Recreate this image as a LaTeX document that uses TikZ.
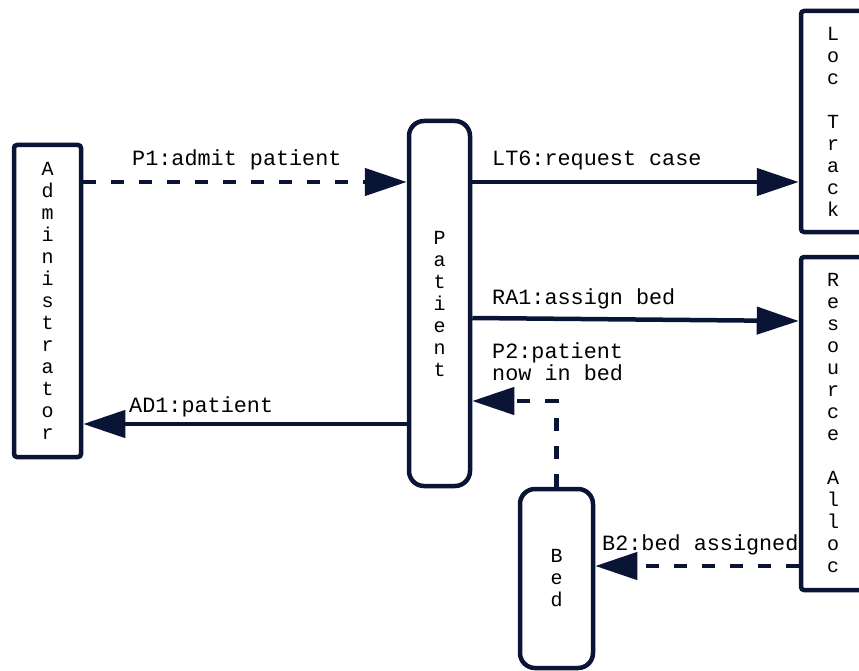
\documentclass[tikz,border=0pt]{standalone}
\usepackage{fontspec}
\newfontfamily\labelfont{Liberation Mono}
\usetikzlibrary{arrows.meta}
\definecolor{ink}{RGB}{10,20,52}
\begin{document}
\begin{tikzpicture}[x=1pt,y=-1pt,
  box/.style={draw=ink, line width=4.5pt, fill=white, inner sep=0pt, align=center,
    rounded corners=3pt, font={\labelfont\fontsize{20}{22}\selectfont}},
  roundbox/.style={box, rounded corners=15pt},
  lbl/.style={font={\labelfont\fontsize{21.8}{22}\selectfont}, anchor=base west,
    inner sep=0pt, align=left},
  flow/.style={draw=ink, line width=4.5pt, -{Triangle[length=42pt,width=27pt]}},
  dashflow/.style={flow, dash pattern=on 13pt off 15pt}]
\useasboundingbox (0,0) rectangle (859,671);
\clip (0,0) rectangle (859,671);

% participants
\node[box, minimum width=67pt, minimum height=312pt] (admin) at (47.5,301)
  {A\\d\\m\\i\\n\\i\\s\\t\\r\\a\\t\\o\\r};
\node[roundbox, minimum width=61pt, minimum height=365pt] (patient) at (439.5,303.5)
  {P\\a\\t\\i\\e\\n\\t};
\node[box, minimum width=64pt, minimum height=221pt] (loctrack) at (833,121.5)
  {L\\o\\c\\~\\T\\r\\a\\c\\k};
\node[box, minimum width=64pt, minimum height=333pt] (resalloc) at (833,423.5)
  {R\\e\\s\\o\\u\\r\\c\\e\\~\\A\\l\\l\\o\\c};
\node[roundbox, minimum width=73pt, minimum height=179pt] (bed) at (556.5,578.5)
  {B\\e\\d};

% heights of the messages
\coordinate (yP1) at (0,182);
\coordinate (yRAa) at (0,318);
\coordinate (yRAb) at (0,321);
\coordinate (yP2) at (0,401);
\coordinate (yAD1) at (0,424);
\coordinate (yB2) at (0,566);

% messages
\draw[dashflow] (admin.east |- yP1) -- (patient.west |- yP1);
\draw[flow] (patient.east |- yP1) -- (loctrack.west |- yP1);
\draw[flow] (patient.east |- yRAa) -- (resalloc.west |- yRAb);
\draw[dashflow] (bed.north) |- (patient.east |- yP2);
\draw[flow] (patient.west |- yAD1) -- (admin.east |- yAD1);
\draw[dashflow] (resalloc.west |- yB2) -- (bed.east |- yB2);

% message labels
\node[lbl] (lP1) at (132,166) {P1:admit patient};
\node[lbl] (lLT6) at (492,166) {LT6:request case};
\node[lbl] (lRA1) at (492,304) {RA1:assign bed};
\node[lbl] (lP2) at (492,380) {P2:patient\\now in bed};
\node[lbl] (lAD1) at (129,412) {AD1:patient};
\node[lbl] (lB2) at (602,550) {B2:bed assigned};
\end{tikzpicture}
\end{document}
